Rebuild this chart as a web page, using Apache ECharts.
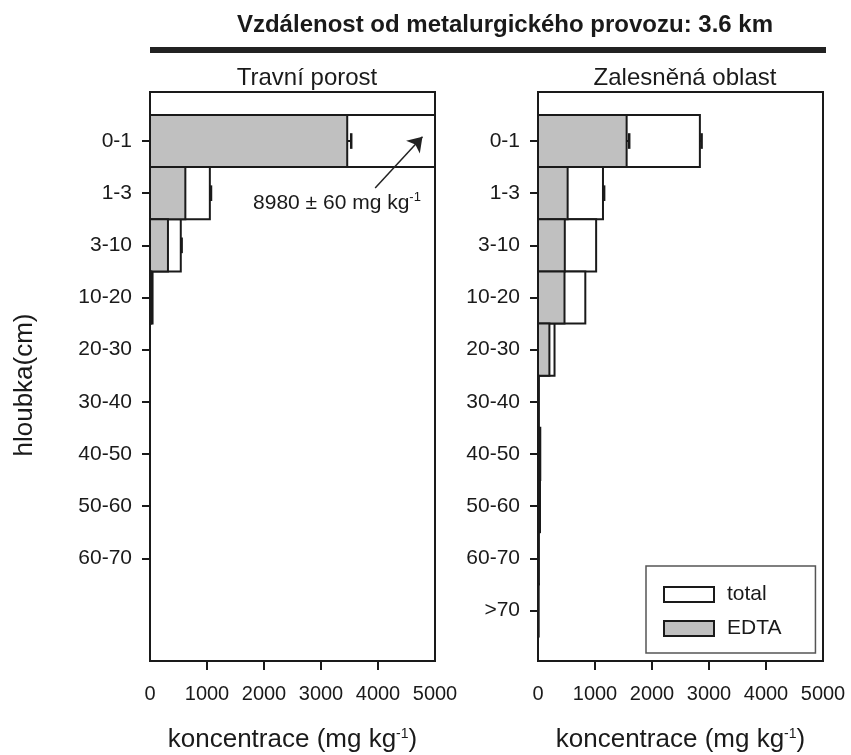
<!DOCTYPE html>
<html>
<head>
<meta charset="utf-8">
<script src="https://cdn.jsdelivr.net/npm/echarts@6/dist/echarts.min.js"></script>
<style>
  html, body { margin: 0; padding: 0; background: #fff; }
  #main { width: 851px; height: 755px; }
</style>
</head>
<body>
<div id="main"></div>
<script>
// hloubky (kategorie)
var depthL = ['0-1', '1-3', '3-10', '10-20', '20-30', '30-40', '40-50', '50-60', '60-70'];
var depthR = ['0-1', '1-3', '3-10', '10-20', '20-30', '30-40', '40-50', '50-60', '60-70', '>70'];

// Travni porost
var totalL = [8980, 1050, 540, 45, 0, 0, 0, 0, 0];
var edtaL = [3460, 620, 315, 22, 0, 0, 0, 0, 0];
var errTotalL = [60, 20, 15, 0, 0, 0, 0, 0, 0];
var errEdtaL = [70, 0, 0, 0, 0, 0, 0, 0, 0];

// Zalesnena oblast
var totalR = [2840, 1140, 1020, 830, 290, 15, 40, 35, 15, 10];
var edtaR = [1555, 520, 470, 465, 200, 8, 20, 18, 8, 5];
var errTotalR = [30, 20, 0, 0, 0, 0, 0, 0, 0, 0];
var errEdtaR = [45, 0, 0, 0, 0, 0, 0, 0, 0, 0];

var xTicks = [1000, 2000, 3000, 4000];

var FONT = "'Liberation Sans', Arial, sans-serif";
var INK = '#1a1a1a';

var myChart = echarts.init(document.getElementById('main'));

function barItem(fill) {
  return function (params, api) {
    var v = api.value(0), i = api.value(1);
    if (!v) return null;
    var p0 = api.coord([0, i]);
    var p1 = api.coord([v, i]);
    var h = Math.abs(api.size([0, 1])[1]);
    var cs = params.coordSys;
    var shape = echarts.graphic.clipRectByRect(
      {x: p0[0], y: p0[1] - h / 2, width: p1[0] - p0[0], height: h},
      {x: cs.x, y: cs.y, width: cs.width, height: cs.height}
    );
    if (!shape) return null;
    return {type: 'rect', shape: shape, style: {fill: fill, stroke: INK, lineWidth: 2}};
  };
}

function errItem(params, api) {
  var v = api.value(0), i = api.value(1), e = api.value(2);
  if (!e || v + e > 5000) return null;
  var a = api.coord([v, i]), b = api.coord([v + e, i]);
  var cap = Math.abs(api.size([0, 1])[1]) * 0.15;
  return {
    type: 'group',
    children: [
      {type: 'line', shape: {x1: a[0], y1: a[1], x2: b[0], y2: b[1]}, style: {stroke: INK, lineWidth: 2}},
      {type: 'line', shape: {x1: b[0], y1: b[1] - cap, x2: b[0], y2: b[1] + cap}, style: {stroke: INK, lineWidth: 2.5}}
    ]
  };
}

function pairs(arr) { return arr.map(function (v, i) { return [v, i]; }); }
function triples(arr, err) { return arr.map(function (v, i) { return [v, i, err[i]]; }); }

function xAxisOf(g) {
  return {
    gridIndex: g, type: 'value', min: 0, max: 5000, interval: 1000,
    axisLine: {show: true, onZero: false, lineStyle: {color: INK, width: 2}},
    splitLine: {show: false},
    axisTick: {show: true, length: 9, customValues: xTicks, lineStyle: {color: INK, width: 2}},
    axisLabel: {
      fontSize: 20, fontFamily: FONT, color: INK, margin: 23, showMinLabel: true, showMaxLabel: true,
      formatter: function (v) { return String(v); }
    },
    name: '{a|koncentrace (mg kg}{s|-1}{a|)}',
    nameLocation: 'middle', nameGap: 66,
    nameTextStyle: {
      rich: {
        a: {fontSize: 26, fontFamily: FONT, color: INK, lineHeight: 26},
        s: {fontSize: 14, fontFamily: FONT, color: INK, lineHeight: 14, verticalAlign: 'top'}
      }
    }
  };
}

function yAxisOf(g, cats) {
  var idx = cats.map(function (c, i) { return i; });
  return {
    gridIndex: g, type: 'value', inverse: true, min: -0.94, max: 9.97,
    axisLine: {show: true, onZero: false, lineStyle: {color: INK, width: 2}},
    splitLine: {show: false},
    axisTick: {show: true, length: 8, customValues: idx, lineStyle: {color: INK, width: 2}},
    axisLabel: {
      customValues: idx, fontSize: 21, fontFamily: FONT, color: INK, margin: 18,
      formatter: function (v) { return cats[Math.round(v)]; }
    }
  };
}

var yL = yAxisOf(0, depthL);
yL.name = 'hloubka(cm)';
yL.nameLocation = 'middle';
yL.nameGap = 112;
yL.nameTextStyle = {fontSize: 26, fontFamily: FONT, color: INK, padding: [0, 17, 0, 0]};

option = {
  backgroundColor: '#fff',
  animation: false,
  textStyle: {fontFamily: FONT},
  title: [
    {text: 'Vzdálenost od metalurgického provozu: 3.6 km', left: 500, top: 8, textAlign: 'center',
     textStyle: {fontSize: 24, fontWeight: 'bold', fontFamily: FONT, color: INK}},
    {text: 'Travní porost', left: 302, top: 61, textAlign: 'center',
     textStyle: {fontSize: 24, fontWeight: 'normal', fontFamily: FONT, color: INK}},
    {text: 'Zalesněná oblast', left: 680, top: 61, textAlign: 'center',
     textStyle: {fontSize: 24, fontWeight: 'normal', fontFamily: FONT, color: INK}}
  ],
  graphic: [
    {type: 'line', shape: {x1: 150, y1: 50, x2: 826, y2: 50}, style: {stroke: '#222', lineWidth: 6}}
  ],
  legend: {
    left: 646, top: 566, orient: 'vertical',
    padding: [18, 34, 14, 17],
    borderColor: '#555', borderWidth: 1.5,
    itemWidth: 50, itemHeight: 15, itemGap: 13,
    textStyle: {fontSize: 21, fontFamily: FONT, color: INK, padding: [0, 0, 0, 8]},
    data: [
      {name: 'total', icon: 'rect', itemStyle: {color: '#fff', borderColor: INK, borderWidth: 2}},
      {name: 'EDTA', icon: 'rect', itemStyle: {color: '#c0c0c0', borderColor: INK, borderWidth: 2}}
    ]
  },
  grid: [
    {left: 150, top: 92, width: 285, height: 569, show: true, borderColor: INK, borderWidth: 2,
     backgroundColor: 'transparent', outerBoundsMode: 'none'},
    {left: 538, top: 92, width: 285, height: 569, show: true, borderColor: INK, borderWidth: 2,
     backgroundColor: 'transparent', outerBoundsMode: 'none'}
  ],
  xAxis: [xAxisOf(0), xAxisOf(1)],
  yAxis: [yL, yAxisOf(1, depthR)],
  series: [
    {name: 'total', type: 'custom', xAxisIndex: 0, yAxisIndex: 0, z: 2,
     itemStyle: {color: '#fff', borderColor: INK, borderWidth: 2},
     encode: {x: 0, y: 1}, renderItem: barItem('#fff'), data: pairs(totalL)},
    {name: 'EDTA', type: 'custom', xAxisIndex: 0, yAxisIndex: 0, z: 3,
     itemStyle: {color: '#c0c0c0', borderColor: INK, borderWidth: 2},
     encode: {x: 0, y: 1}, renderItem: barItem('#c0c0c0'), data: pairs(edtaL),
     markLine: {
       silent: true, symbol: ['none', 'arrow'], symbolSize: 14,
       lineStyle: {color: '#222', width: 1.5, type: 'solid'},
       label: {show: false},
       data: [[{coord: [3950, 0.9]}, {coord: [4780, -0.08]}]]
     },
     markPoint: {
       silent: true, symbol: 'rect', symbolSize: 0,
       label: {
         show: true, position: 'inside',
         formatter: '{a|8980 ± 60 mg kg}{s|-1}',
         rich: {
           a: {fontSize: 21, fontFamily: FONT, color: INK, lineHeight: 24},
           s: {fontSize: 13, fontFamily: FONT, color: INK, lineHeight: 12, verticalAlign: 'top'}
         }
       },
       data: [{coord: [3280, 1.19]}]
     }},
    {name: 'errL', type: 'custom', xAxisIndex: 0, yAxisIndex: 0, z: 4,
     encode: {x: 0, y: 1}, renderItem: errItem, data: triples(totalL, errTotalL)},
    {name: 'errL', type: 'custom', xAxisIndex: 0, yAxisIndex: 0, z: 4,
     encode: {x: 0, y: 1}, renderItem: errItem, data: triples(edtaL, errEdtaL)},

    {name: 'total', type: 'custom', xAxisIndex: 1, yAxisIndex: 1, z: 2,
     itemStyle: {color: '#fff', borderColor: INK, borderWidth: 2},
     encode: {x: 0, y: 1}, renderItem: barItem('#fff'), data: pairs(totalR)},
    {name: 'EDTA', type: 'custom', xAxisIndex: 1, yAxisIndex: 1, z: 3,
     itemStyle: {color: '#c0c0c0', borderColor: INK, borderWidth: 2},
     encode: {x: 0, y: 1}, renderItem: barItem('#c0c0c0'), data: pairs(edtaR)},
    {name: 'errR', type: 'custom', xAxisIndex: 1, yAxisIndex: 1, z: 4,
     encode: {x: 0, y: 1}, renderItem: errItem, data: triples(totalR, errTotalR)},
    {name: 'errR', type: 'custom', xAxisIndex: 1, yAxisIndex: 1, z: 4,
     encode: {x: 0, y: 1}, renderItem: errItem, data: triples(edtaR, errEdtaR)}
  ]
};

myChart.setOption(option);
</script>
</body>
</html>
